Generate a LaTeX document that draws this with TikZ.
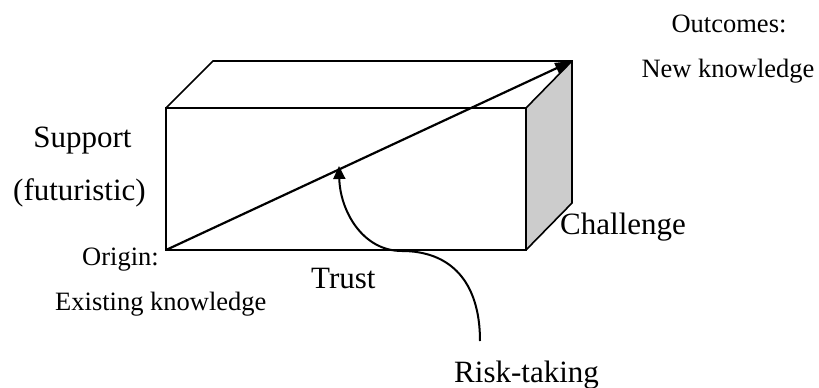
\documentclass[tikz,border=0pt]{standalone}
\usepackage{fontspec}
\setmainfont{Liberation Serif}
\usetikzlibrary{arrows.meta}
\definecolor{sidegray}{HTML}{CCCCCC}
\begin{document}
\begin{tikzpicture}[x=1pt,y=-1pt,
  edge/.style={line width=1.6pt, line join=miter},
  bigtext/.style={font=\fontsize{31}{36}\selectfont, inner sep=0pt},
  smalltext/.style={font=\fontsize{26.5}{30}\selectfont, inner sep=0pt},
  longtip/.style={-{Triangle[length=17pt,width=11pt]}},
  shorttip/.style={-{Triangle[length=13pt,width=12pt]}}]
\useasboundingbox (0,0) rectangle (819,388);

% corners of the box
\coordinate (fbl) at (166,250);
\coordinate (ftl) at (166,108);
\coordinate (ftr) at (526,108);
\coordinate (fbr) at (526,250);
\coordinate (btl) at (213,61);
\coordinate (btr) at (572,61);
\coordinate (bbr) at (572,203);

% shaded right side
\fill[sidegray] (ftr) -- (btr) -- (bbr) -- (fbr) -- cycle;

% box outline
\draw[edge] (fbl) rectangle (ftr);
\draw[edge] (ftl) -- (btl) -- (btr) -- (bbr) -- (fbr);
\draw[edge] (ftr) -- (btr);

% path from origin to outcomes
\draw[line width=2.2pt, longtip] (fbl) -- (btr);

% risk-taking curve
\coordinate (rstart) at (480,341);
\coordinate (bend) at (402,251);
\coordinate (rtip) at (339,166);
\draw[line width=2pt, shorttip] (rstart) .. controls +(0,-60) and +(48,0) .. (bend)
  .. controls +(-40,0) and +(1,44) .. (rtip);

% labels
\node[bigtext, anchor=base] (support) at (82.5,147) {Support};
\node[bigtext, anchor=base] (futur) at (79.5,200) {(futuristic)};
\node[smalltext, anchor=base west] (origin) at (82,265) {Origin:};
\node[smalltext, anchor=base west] (exist) at (55,310) {Existing knowledge};
\node[bigtext, anchor=base west] (trust) at (311,288) {Trust};
\node[bigtext, anchor=base west] (chall) at (560,234) {Challenge};
\node[bigtext, anchor=base west] (risk) at (454,382) {Risk-taking};
\node[smalltext, anchor=base] (outc) at (729,32) {Outcomes:};
\node[smalltext, anchor=base] (newk) at (728,77) {New knowledge};
\end{tikzpicture}
\end{document}
